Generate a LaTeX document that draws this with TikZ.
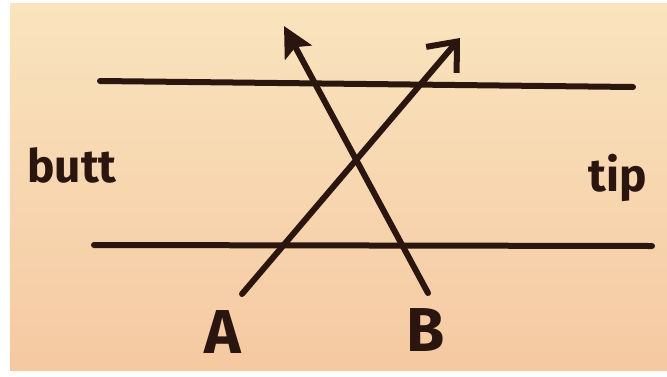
\documentclass[tikz,border=0pt]{standalone}
\usepackage{fontspec}
\setmainfont{Fira Sans}
\usetikzlibrary{arrows.meta}
\definecolor{ink}{HTML}{2B150F}
\definecolor{paperA}{HTML}{F9E4BE}
\definecolor{paperB}{HTML}{F5C9A2}

\begin{document}
\begin{tikzpicture}[x=1pt, y=-1pt, line cap=round, line join=round,
    pen/.style={ink, line width=6pt},
    label/.style={ink, font=\fontsize{46}{46}\selectfont\bfseries, inner sep=0pt},
    biglabel/.style={label, font=\fontsize{62}{62}\selectfont\bfseries}]

  % ---- Paper ----
  \fill[white] (0,0) rectangle (667,376);
  \shade[top color=paperA, bottom color=paperB] (10,3) rectangle (667,370);
  \useasboundingbox (0,0) rectangle (667,376);

  % ---- Labels ----
  \node[label] (butt) at (72,165) {butt};
  \node[label] (tip)  at (618,178) {tip};
  \node[biglabel] (A) at (223,332) {A};
  \node[biglabel] (B) at (426,330) {B};

  % ---- Ends of the strokes ----
  \coordinate (topL) at (100,81);
  \coordinate (topR) at (633,87);
  \coordinate (botL) at (94,245);
  \coordinate (botR) at (652,246);
  \coordinate (Astart) at (242,294);
  \coordinate (Aend)   at (460,38);
  \coordinate (Bstart) at (428,293);
  \coordinate (Bend)   at (284,26);

  % ---- Two parallel lines ----
  \draw[pen] (topL) -- (topR);
  \draw[pen] (botL) -- (botR);

  % ---- Crossing arrows ----
  \draw[pen, -{Straight Barb[length=24pt, width=40pt, line width=6pt]}] (Astart) -- (Aend);
  \draw[pen, -{Stealth[length=30pt, width=30pt, inset=6pt]}] (Bstart) -- (Bend);

\end{tikzpicture}
\end{document}
